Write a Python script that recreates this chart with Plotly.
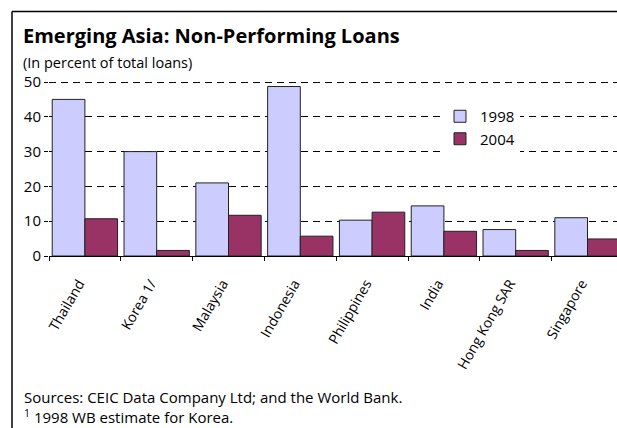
import plotly.graph_objects as go

countries = ["Thailand", "Korea 1/", "Malaysia", "Indonesia", "Philippines", "India", "Hong Kong SAR", "Singapore"]
npl_1998 = [45.0, 30.0, 21.0, 48.7, 10.3, 14.4, 7.6, 11.0]
npl_2004 = [10.7, 1.6, 11.7, 5.7, 12.6, 7.1, 1.6, 4.9]

W, H = 617, 428
L, T = 49, 80
R, B = 0, 172
PW, PH = W - L - R, H - T - B

def px(x):
    return (x - L) / PW

def py(y):
    return (H - B - y) / PH

FONT = "Open Sans"

fig = go.Figure()
fig.add_trace(go.Bar(name="1998", x=countries, y=npl_1998,
                     marker=dict(color="#CCCCFF", line=dict(color="#222222", width=1))))
fig.add_trace(go.Bar(name="2004", x=countries, y=npl_2004,
                     marker=dict(color="#993366", line=dict(color="#222222", width=1))))

fig.update_layout(
    width=W, height=H,
    margin=dict(l=L, r=R, t=T, b=B, pad=0),
    paper_bgcolor="white", plot_bgcolor="white",
    barmode="group", bargap=0.09, bargroupgap=0,
    font=dict(family=FONT, size=14, color="black"),
    showlegend=True,
    legend=dict(x=px(440), y=py(100), xanchor="left", yanchor="top",
                bgcolor="white", font=dict(size=15, family=FONT),
                itemwidth=30, tracegroupgap=0),
)
fig.update_xaxes(
    range=[-0.5, -0.5 + PW / 71.8],
    showline=True, linecolor="black", linewidth=1,
    ticks="outside", tickson="boundaries", ticklen=4, tickcolor="black",
    tickangle=-60, tickfont=dict(size=14, family=FONT),
    ticklabelstandoff=13, ticklabelshift=-6,
    showgrid=False, zeroline=False,
)
fig.update_yaxes(
    range=[0, PH / 3.48],
    tickvals=[0, 10, 20, 30, 40, 50],
    showgrid=True, gridcolor="black", gridwidth=1, griddash="7px,5px",
    ticks="outside", ticklen=4, tickcolor="black",
    showline=False, zeroline=False,
    tickfont=dict(size=15, family=FONT),
)

annots = [
    dict(text="<b>Emerging Asia: Non-Performing Loans</b>", x=px(21), y=py(35), size=20),
    dict(text="(In percent of total loans)", x=px(21), y=py(62), size=14.5),
    dict(text="Sources: CEIC Data Company Ltd; and the World Bank.", x=px(22), y=py(397), size=15),
    dict(text="<sup>1</sup> 1998 WB estimate for Korea.", x=px(22), y=py(416), size=15),
]
for a in annots:
    fig.add_annotation(text=a["text"], x=a["x"], y=a["y"], xref="paper", yref="paper",
                       xanchor="left", yanchor="middle", showarrow=False,
                       font=dict(size=a["size"], family=FONT, color="black"))

# frame lines
fig.add_shape(type="line", xref="paper", yref="paper", x0=px(12), x1=px(640), y0=py(11.5), y1=py(11.5),
              line=dict(color="black", width=1.5))
fig.add_shape(type="line", xref="paper", yref="paper", x0=px(12), x1=px(12), y0=py(11.5), y1=py(440),
              line=dict(color="black", width=1.5))

fig.write_html("out.html", config={"displayModeBar": False},
               post_script="document.body.style.margin='0px';document.body.style.overflow='hidden';")
